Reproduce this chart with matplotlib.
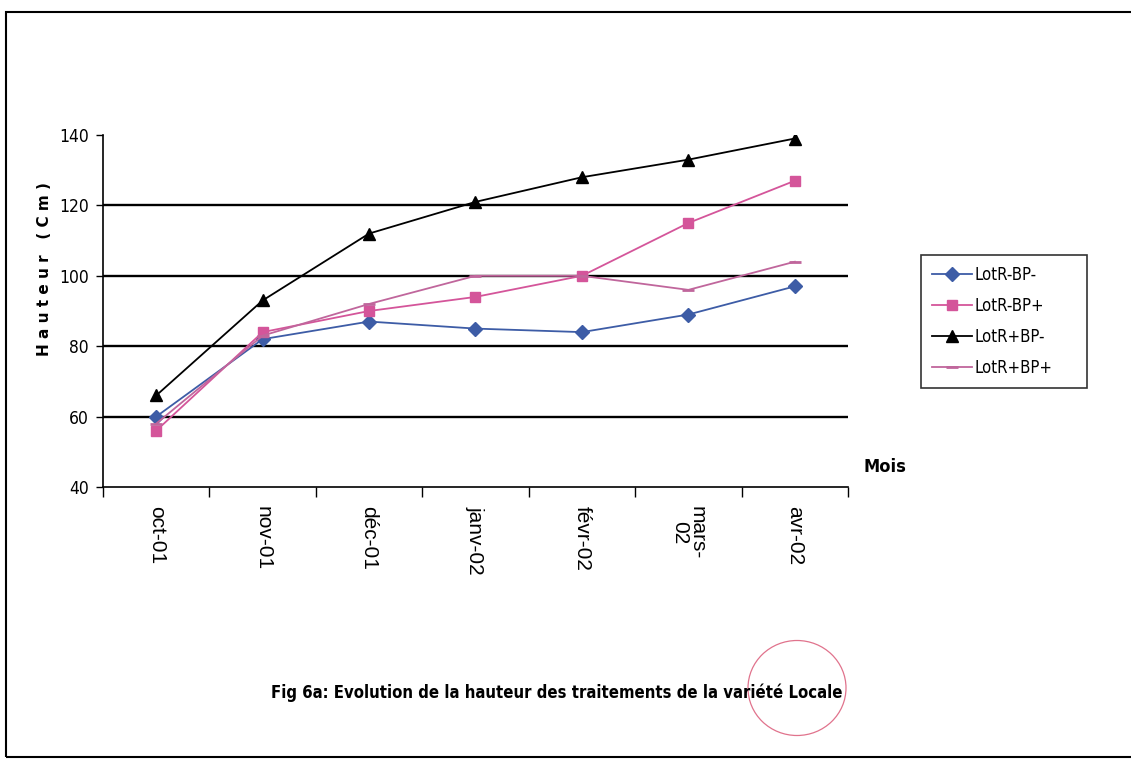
import matplotlib
matplotlib.use("Agg")
import matplotlib.pyplot as plt
from matplotlib.patches import Rectangle, Ellipse
from matplotlib import font_manager
from matplotlib.font_manager import FontProperties
import numpy as np

# monthly height measurements per treatment (cm)
mois = ["oct-01", "nov-01", "déc-01", "janv-02", "févr-02", "mars-\n02", "avr-02"]
lotr_bpm = [60, 82, 87, 85, 84, 89, 97]
lotr_bpp = [56, 84, 90, 94, 100, 115, 127]
lotrp_bpm = [66, 93, 112, 121, 128, 133, 139]
lotrp_bpp = [58, 83, 92, 100, 100, 96, 104]
noms = ["LotR-BP-", "LotR-BP+", "LotR+BP-", "LotR+BP+"]


def narrow_font(bold):
    # look for any condensed / narrow face installed
    best = None
    for f in font_manager.fontManager.ttflist:
        nm = (f.name + " " + str(f.fname)).lower()
        if "narrow" in nm or "condensed" in nm or str(f.stretch) in ("condensed", "semi-condensed"):
            is_bold = "bold" in str(f.fname).lower() or f.weight in ("bold", 700)
            if "italic" in str(f.fname).lower() or "oblique" in str(f.fname).lower():
                continue
            if is_bold == bold:
                return FontProperties(fname=f.fname)
            best = best or FontProperties(fname=f.fname)
    return best


nb = narrow_font(True)
nr = narrow_font(False)
if nb is None:
    nb = FontProperties(family="DejaVu Sans", weight="bold")
if nr is None:
    nr = FontProperties(family="DejaVu Sans")

fig = plt.figure(figsize=(11.31, 7.67), dpi=100)
ax = fig.add_axes([103/1131, 1-487/767, (848-103)/1131, (487-135)/767])

x = np.arange(len(mois))
ax.plot(x, lotr_bpm, color="#3d5ca6", lw=1.3, marker="D", ms=7, label=noms[0])
ax.plot(x, lotr_bpp, color="#d4559a", lw=1.3, marker="s", ms=7, label=noms[1])
ax.plot(x, lotrp_bpm, color="black", lw=1.3, marker="^", ms=8, label=noms[2])
ax.plot(x, lotrp_bpp, color="#c0669c", lw=1.3, marker="_", ms=9, mew=2, label=noms[3])

ax.set_xlim(-0.5, 6.5)
ax.set_ylim(40, 140)
ax.set_yticks([40, 60, 80, 100, 120, 140])
for v in [60, 80, 100, 120]:
    ax.axhline(v, color="black", lw=1.7, zorder=0)

ax.set_xticks(np.arange(-0.5, 7, 1))
ax.set_xticklabels([])
ax.set_xticks(x, minor=True)
ax.set_xticklabels(mois, minor=True, rotation=270, fontsize=15,
                   family="Liberation Sans", linespacing=0.9)
ax.tick_params(axis="x", which="major", length=7, width=1, direction="out")
ax.tick_params(axis="x", which="minor", length=0, pad=14)
ax.tick_params(axis="y", length=5, width=1, direction="out", pad=5)
for lab in ax.get_yticklabels():
    lab.set_fontproperties(nr)
    lab.set_fontsize(12.5)

for s in ["top", "right"]:
    ax.spines[s].set_visible(False)
for s in ["left", "bottom"]:
    ax.spines[s].set_linewidth(1.2)

ax.set_ylabel("H a u t e u r   ( C m )", fontsize=11, fontweight="bold",
              family="DejaVu Sans")
ax.yaxis.set_label_coords(-0.068, 0.62)

lp = nr.copy()
lp.set_size(12)
leg = fig.legend(loc="upper left",
                 bbox_to_anchor=(921/1131, 1-385/767, 166/1131, 130/767),
                 mode="expand", frameon=True, fancybox=False, edgecolor="black",
                 prop=lp, handlelength=2.4,
                 labelspacing=0.78, handletextpad=0.15, borderpad=0.65,
                 borderaxespad=0)
leg.get_frame().set_linewidth(1.2)

tp = nb.copy()
tp.set_size(13)
fig.text(885/1131, 1-467/767, "Mois", fontproperties=tp, ha="center", va="center")
tp2 = nb.copy()
tp2.set_size(12)
fig.text(557/1131, 1-693/767,
         "Fig 6a: Evolution de la hauteur des traitements de la variété Locale",
         fontproperties=tp2, ha="center", va="center")

# stamp circle and outer frame
fig.patches.append(Ellipse((797/1131, 1-688/767), 98/1131, 95/767,
                           transform=fig.transFigure, fill=False,
                           edgecolor="#d95070", lw=0.9, alpha=0.8))
fig.patches.append(Rectangle((6/1131, 1-757/767), 1.0, (757-12)/767,
                             transform=fig.transFigure, fill=False,
                             edgecolor="black", lw=1.5))

fig.savefig("out.png", dpi=100)
